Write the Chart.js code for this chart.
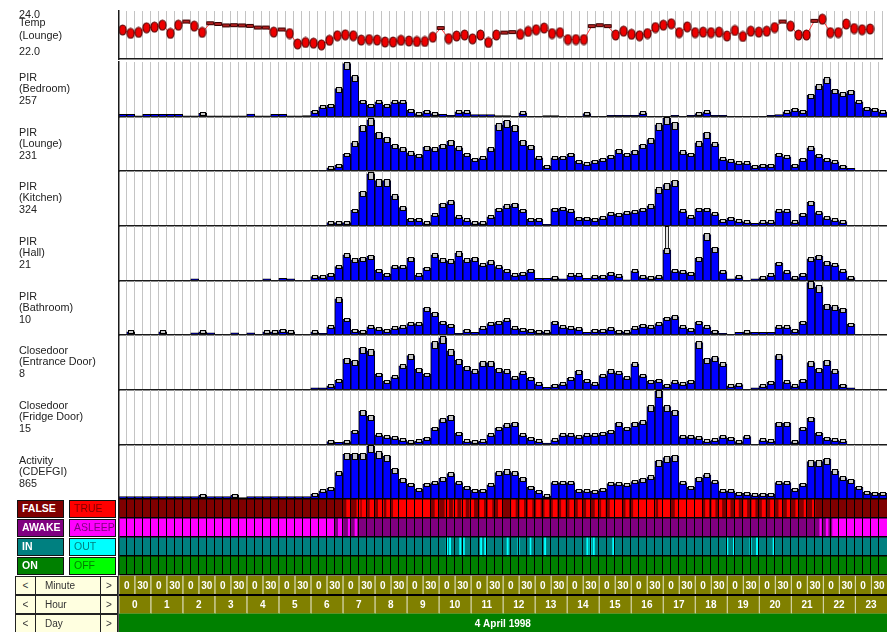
<!DOCTYPE html>
<html>
<head>
<meta charset="utf-8">
<script src="https://cdn.jsdelivr.net/npm/chart.js@4.4.1/dist/chart.umd.min.js"></script>
<style>
  html, body { margin: 0; padding: 0; background: #fff; }
  #wrap { position: relative; width: 887px; height: 632px; overflow: hidden;
          font-family: "Liberation Sans", Arial, sans-serif; }
  #wrap canvas { position: absolute; left: 0; }
  .lab { position: absolute; left: 19px; font-size: 10.8px; line-height: 11.5px; color: #222; white-space: nowrap; }
  .tl { position: absolute; left: 19px; font-size: 10.8px; line-height: 11px; color: #222; white-space: nowrap; }
  .sbox { position: absolute; height: 18px; box-sizing: border-box; border: 1.5px solid #111;
          font-weight: bold; font-size: 10.5px; line-height: 15px; padding-left: 4px; white-space: nowrap; }
  .nav { position: absolute; box-sizing: border-box; background: #ffffe0; border: 1px solid #222;
         font-size: 10px; line-height: 17px; color: #333; white-space: nowrap; }
</style>
</head>
<body>
<div id="wrap"></div>
<script>
// ---------- time axis ----------
const hourLabels = ['0','1','2','3','4','5','6','7','8','9','10','11','12','13','14','15','16','17','18','19','20','21','22','23'];
const minuteLabels = ['0', '30'];
const quarterLabels = ['00', '15', '30', '45'];
const dayLabel = '4 April 1998';

// ---------- lounge temperature (deg C), one reading per quarter hour ----------
const tempLounge = [
  23.21,23.07,23.11,23.30,23.33,23.41,23.07,23.41,23.56,23.37,23.11,23.49,
  23.46,23.40,23.41,23.40,23.38,23.31,23.31,23.12,23.23,23.06,22.63,22.69,
  22.66,22.59,22.78,22.97,23.01,22.97,22.79,22.81,22.79,22.71,22.71,22.78,
  22.75,22.73,22.73,22.91,23.29,22.85,22.96,23.00,22.84,23.00,22.69,23.00,
  23.10,23.12,23.03,23.15,23.22,23.29,23.06,23.10,22.81,22.81,22.81,23.37,
  23.41,23.37,23.00,23.16,23.03,22.97,23.06,23.31,23.41,23.47,23.10,23.34,
  23.10,23.12,23.10,23.12,22.96,23.19,22.94,23.16,23.12,23.16,23.31,23.56,
  23.37,23.00,23.00,23.59,23.66,23.10,23.10,23.46,23.27,23.22,23.25,null
];
// quarters in which the temperature did not move
const tempSteady = [8,11,12,13,14,15,16,17,18,20,40,48,49,59,60,61,83,87];
const tempRange = [22.0, 24.0];

// ---------- sensor counts per quarter hour ----------
const pirBedroom = [
  12,12,5,12,12,12,12,12,5,5,17,5,5,5,5,5,14,5,5,12,12,5,5,7,
  27,47,55,133,250,189,74,55,71,55,71,71,32,16,27,16,13,8,24,24,11,11,11,7,
  7,0,19,0,0,7,7,0,0,0,16,0,0,8,8,8,8,19,0,0,0,8,0,8,
  16,24,8,8,0,0,0,0,0,8,11,24,36,27,102,146,178,126,110,121,71,42,36,24
];
const pirLounge = [
  0,0,0,0,0,0,0,0,0,0,0,0,0,0,0,0,0,0,0,0,0,0,0,0,
  0,0,14,25,71,120,191,219,162,141,110,96,78,68,102,96,110,127,99,71,50,56,96,198,
  212,191,127,106,56,21,56,59,71,42,31,42,50,64,88,71,85,110,134,198,226,205,82,71,
  120,162,116,52,45,35,35,21,25,25,71,61,25,50,99,68,50,39,21,11,0,0,0,0
];
const pirKitchen = [
  0,0,0,0,0,0,0,0,0,0,0,0,0,0,0,0,0,0,0,0,0,0,0,0,
  0,0,20,20,20,93,198,307,268,268,178,109,40,40,20,65,129,144,54,36,20,20,54,99,
  119,129,93,40,40,10,99,105,89,46,46,40,49,73,70,79,85,99,119,218,244,263,89,54,
  99,99,73,34,46,30,24,16,24,24,89,89,24,70,139,79,49,36,26,0,0,0,0,0
];
const pirHall = [
  0,0,0,0,0,0,0,0,0,0.8,0,0,0,0,0,0,0,0,0.8,0,1.0,0.8,0,0,
  1.7,1.7,2.6,5.5,10.0,8.1,8.7,9.4,4.2,2.6,5.5,5.5,8.7,2.3,4.9,10.0,8.1,7.7,10.7,8.1,8.7,6.2,7.4,5.5,
  4.2,2.3,3.0,4.2,1.0,1.0,1.3,0.8,2.3,2.3,1.0,1.7,1.9,3.0,2.0,0.4,3.9,1.7,1.3,1.7,11.9,4.0,3.6,3.0,
  8.7,17.7,12.6,3.6,0.8,1.7,0,0.8,1.3,2.3,6.8,3.6,1.3,2.6,8.5,9.4,7.2,6.2,3.9,1.3,0,0,0,0
];
// [quarter index, peak reading] where the hall sensor spiked
const pirHallPeak = [[68, 21]];
const pirBathroom = [
  0,0.6,0,0,0,0.6,0,0,0,0.4,0.6,0.4,0,0,0.4,0,0.4,0,0.6,0.6,0.9,0.6,0,0,
  0.6,0.3,1.5,6.7,2.9,0.9,0.7,1.5,1.2,0.9,1.3,1.5,2.1,2.1,5.0,4.0,2.4,1.8,0.3,0.9,0.5,1.3,2.1,2.4,
  2.8,1.3,1.1,0.9,0.7,0.6,2.4,1.5,1.3,1.2,0.5,0.9,0.9,1.2,0.7,0.6,1.3,1.8,1.5,2.1,3.1,3.4,1.5,1.1,
  2.4,1.5,0.7,0.3,0,0.5,0.6,0.5,0.5,0.5,1.5,1.5,0.9,2.4,9.7,8.9,5.5,5.2,4.8,2.0,0,0,0,0
];
const doorEntrance = [
  0,0,0,0,0,0,0,0,0,0,0,0,0,0,0,0,0,0,0,0,0,0,0,0,
  0.3,0.3,0.6,1.4,4.5,4.2,6.1,5.7,2.3,1.3,1.9,3.5,5.0,3.0,2.3,6.9,7.6,5.7,4.3,3.3,2.8,4.0,4.0,3.0,
  2.8,1.8,2.5,1.7,0.9,0.4,0.7,0.9,1.7,2.7,1.4,0.9,2.1,2.8,2.5,1.8,3.8,2.1,1.3,1.4,0.7,1.2,0.9,1.3,
  6.9,4.5,4.7,3.8,0.6,0.8,0,0.3,0.6,1.1,5.0,1.2,0.6,1.4,4.0,3.0,4.2,2.8,0.7,0.3,0,0,0,0
];
const doorFridge = [
  0,0,0,0,0,0,0,0,0,0,0,0,0,0,0,0,0,0,0,0,0,0,0,0,
  0,0,0.9,0.7,0.9,3.7,9.2,7.8,2.8,2.3,2.0,1.4,0.9,1.1,1.8,4.6,6.9,7.8,3.2,1.1,0.9,1.1,2.8,4.6,
  5.5,6.0,2.8,1.8,1.1,0.5,1.4,2.8,2.8,2.3,2.8,2.8,3.2,3.7,6.0,4.6,6.0,6.4,10.5,14.7,10.5,9.2,2.3,2.3,
  2.0,1.1,1.4,2.3,1.8,0.9,2.3,0,1.4,1.1,6.0,6.0,0.9,4.6,7.3,3.2,1.8,1.4,1.1,0,0,0,0,0
];
const activityCDEFGI = [
  40,40,40,40,40,40,40,40,40,40,64,40,40,40,64,24,40,40,40,40,40,40,40,40,
  79,132,175,424,714,714,714,846,741,687,476,317,238,159,238,265,333,408,265,186,143,143,227,424,
  449,424,333,186,122,52,265,265,265,143,132,122,159,249,249,227,281,317,354,608,662,687,265,186,
  333,386,281,132,132,90,90,68,79,79,265,265,159,238,598,598,635,449,344,302,186,106,90,90
];

const panelTitles = [
  ['PIR', '(Bedroom)'], ['PIR', '(Lounge)'], ['PIR', '(Kitchen)'], ['PIR', '(Hall)'],
  ['PIR', '(Bathroom)'], ['Closedoor', '(Entrance Door)'], ['Closedoor', '(Fridge Door)'],
  ['Activity', '(CDEFGI)']
];
const panelMax = [257, 231, 324, 21, 10, 8, 15, 865];
const panelSeries = [pirBedroom, pirLounge, pirKitchen, pirHall, pirBathroom, doorEntrance, doorFridge, activityCDEFGI];

// ---------- state bands (hours of the day) ----------
const stateRows = ['FALSE', 'AWAKE', 'IN', 'ON'];
const stateAltLabels = ['TRUE', 'ASLEEP', 'OUT', 'OFF'];
const trueIntervals = [
  [7.12,7.23],[7.44,7.54],[7.60,7.75],[7.85,8.00],[8.11,8.27],[8.37,8.48],[8.58,9.73],
  [9.88,10.0],[10.19,10.31],[10.45,10.57],[10.71,10.83],[10.97,11.09],[11.28,11.40],[11.54,11.66],
  [11.86,11.98],[12.27,12.39],[12.53,12.65],[12.79,12.91],[13.05,13.17],[13.31,13.43],[13.57,13.69],
  [13.83,13.95],[14.09,14.21],[14.35,14.47],[14.61,14.73],[14.88,15.0],[15.08,15.2],
  [15.35,15.72],[15.84,15.93],[16.08,16.76],[16.86,17.23],[17.38,18.22],
  [18.33,18.43],[18.53,18.63],[18.74,18.84],[19.0,19.1],[19.26,19.36],[19.52,19.62],[19.78,19.88],
  [20.1,20.2],[20.36,20.46],[20.62,20.72],[20.88,20.98],[21.15,21.23],[21.41,21.49],[21.67,21.75]
];
const asleepIntervals = [[0,6.73],[6.86,7.0],[7.17,7.23],[7.38,7.44],[21.9,21.95],[22.1,22.16],[22.3,24]];
const outIntervals = [
  [10.23,10.28],[10.33,10.37],[10.65,10.69],[10.77,10.8],[11.3,11.34],[11.43,11.47],[12.13,12.17],
  [12.47,12.51],[12.85,12.88],[13.3,13.34],[14.62,14.66],[14.72,14.76],[14.82,14.86],[15.43,15.47],
  [18.98,19.03],[19.2,19.24],[19.72,19.76],[19.92,19.96],[20.44,20.48]
];
const offIntervals = [];

// ---------- styling ----------
const stateDark = ['#800000', '#800080', '#008080', '#008000'];
const stateBright = ['#ff0000', '#ff00ff', '#00ffff', '#00ff00'];
const FONT = '"Liberation Sans", Arial, sans-serif';
const W = 887, LEFT = 118.7;
const panelEdges = [62, 117, 171, 226, 281, 335, 390, 445, 499];

Chart.defaults.animation = false;
Chart.defaults.font.family = FONT;
Chart.defaults.plugins.legend.display = false;
Chart.defaults.plugins.tooltip.enabled = false;

const wrap = document.getElementById('wrap');
const slotKeys = [];
hourLabels.forEach(h => quarterLabels.forEach(q => slotKeys.push(h + ':' + q)));

function addCanvas(top, height) {
  const c = document.createElement('canvas');
  c.width = W; c.height = height;
  c.style.width = W + 'px'; c.style.height = height + 'px';
  c.style.top = top + 'px';
  wrap.appendChild(c);
  return c;
}
function addDiv(cls, css, html) {
  const d = document.createElement('div');
  d.className = cls;
  Object.assign(d.style, css);
  d.innerHTML = html;
  wrap.appendChild(d);
  return d;
}
const baseOpts = () => ({
  responsive: false, devicePixelRatio: 1, events: [],
  layout: { padding: { left: LEFT, right: 0, top: 2, bottom: 2 } }
});
const slotAxis = () => ({
  type: 'category', labels: slotKeys, offset: true,
  grid: { offset: true, color: '#c4c4c4', lineWidth: 1, drawTicks: false },
  ticks: { display: false },
  border: { display: true, color: '#1a1a1a', width: 1.5, z: 2 }
});
const valueAxis = (min, max) => ({
  type: 'linear', min, max,
  grid: { display: false, drawTicks: false },
  ticks: { display: false },
  border: { display: true, color: '#1a1a1a', width: 1.5, z: 2 }
});

// temperature point markers
function makeMark(w, h, draw) {
  const c = document.createElement('canvas');
  c.width = w; c.height = h;
  draw(c.getContext('2d'), w, h);
  return c;
}
const ovalMark = makeMark(9, 12, (g, w, h) => {
  g.beginPath(); g.ellipse(w / 2, h / 2, 3.5, 5, 0, 0, Math.PI * 2);
  g.fillStyle = '#ee0000'; g.fill();
  g.lineWidth = 1.2; g.strokeStyle = '#5a0000'; g.stroke();
});
const flatMark = makeMark(10, 6, (g, w, h) => {
  g.beginPath(); g.rect(1.5, 1.5, 7, 3);
  g.fillStyle = '#b02020'; g.fill();
  g.lineWidth = 1; g.strokeStyle = '#3a0000'; g.stroke();
});

// ---------- temperature panel ----------
addCanvas(panelEdges[0] - 56, 58);
new Chart(wrap.lastChild, {
  type: 'line',
  data: { labels: slotKeys, datasets: [{
    data: tempLounge,
    borderColor: '#ff3b3b', borderWidth: 1, tension: 0,
    pointStyle: (ctx) => tempSteady.includes(ctx.dataIndex) ? flatMark : ovalMark
  }] },
  options: Object.assign(baseOpts(), {
    scales: { x: slotAxis(), y: valueAxis(tempRange[0], tempRange[1]) }
  })
});
addDiv('tl', { top: '8.5px' }, tempRange[1].toFixed(1));
addDiv('tl', { top: '16.5px' }, 'Temp');
addDiv('tl', { top: '29.5px' }, '(Lounge)');
addDiv('tl', { top: '45.5px' }, tempRange[0].toFixed(1));

// grey cap on top of every count bar that is tall enough to carry one
const capPlugin = {
  id: 'caps',
  afterDatasetsDraw(chart) {
    const meta = chart.getDatasetMeta(0);
    const vals = chart.data.datasets[0].data;
    const ctx = chart.ctx;
    ctx.save();
    ctx.lineWidth = 1;
    ctx.strokeStyle = '#000';
    ctx.fillStyle = '#c8c8c8';
    meta.data.forEach((bar, i) => {
      if (!vals[i]) return;
      const h = bar.base - bar.y;
      if (h < 3) return;
      const capH = Math.max(2.5, Math.min(7, 1.5 + h * 0.11));
      const w = 5;
      const x0 = Math.round(bar.x - w / 2) + 0.5;
      const y0 = Math.round(bar.y - 1.5) + 0.5;
      ctx.fillRect(x0, y0, w, Math.round(capH));
      ctx.strokeRect(x0, y0, w, Math.round(capH));
    });
    ctx.restore();
  }
};

// ---------- sensor panels ----------
panelSeries.forEach((series, p) => {
  const top = panelEdges[p], bottom = panelEdges[p + 1];
  addCanvas(top - 2, bottom - top + 4);
  const datasets = [{
    data: series, backgroundColor: '#0000ff', borderColor: '#000', borderWidth: 1,
    barPercentage: 1, categoryPercentage: 1, grouped: false, order: 1
  }];
  if (series === pirHall) {
    datasets.push({
      data: pirHallPeak.map(([i, peak]) => ({ x: slotKeys[i], y: [series[i], peak] })),
      backgroundColor: '#e4e4e4', borderColor: '#000', borderWidth: 1, borderSkipped: false,
      barPercentage: 0.5, categoryPercentage: 1, grouped: false, order: 0
    });
  }
  new Chart(wrap.lastChild, {
    type: 'bar',
    data: { labels: slotKeys, datasets },
    options: Object.assign(baseOpts(), {
      scales: { x: slotAxis(), y: valueAxis(0, panelMax[p]) }
    }),
    plugins: [capPlugin]
  });
  const t = panelTitles[p];
  addDiv('lab', { top: (top + 9.5) + 'px' }, t[0] + '<br>' + t[1] + '<br>' + panelMax[p]);
});

// ---------- state bands ----------
const stateTop = 499, stateBottom = 575;
addCanvas(stateTop - 2, stateBottom - stateTop + 4);
const quarterEdges = [];
for (let i = 0; i <= hourLabels.length * 4; i++) quarterEdges.push(i / 4);
const altSets = [trueIntervals, asleepIntervals, outIntervals, offIntervals];
new Chart(wrap.lastChild, {
  type: 'bar',
  data: {
    labels: stateRows,
    // the resting state fills each band; the alternate state is laid over it
    datasets: altSets.map((set, k) => ({
      data: set.map(iv => ({ x: iv, y: stateRows[k] })), backgroundColor: stateBright[k], order: 0
    })).concat([
      { data: stateRows.map(r => ({ x: [0, 24], y: r })), backgroundColor: stateDark, order: 1 }
    ])
  },
  options: Object.assign(baseOpts(), {
    indexAxis: 'y',
    datasets: { bar: { grouped: false, barPercentage: 1, categoryPercentage: 1, borderWidth: 0, borderSkipped: false } },
    scales: {
      x: { type: 'linear', min: 0, max: 24,
           afterBuildTicks: (s) => { s.ticks = quarterEdges.map(v => ({ value: v })); },
           grid: { color: '#000', lineWidth: 1, z: 1, drawTicks: false },
           ticks: { display: false }, border: { display: false } },
      y: { type: 'category', offset: true,
           grid: { offset: true, color: '#000', lineWidth: 1.5, z: 1, drawTicks: false },
           ticks: { display: false },
           border: { display: true, color: '#1a1a1a', width: 1.5, z: 2 } }
    }
  })
});
stateRows.forEach((r, k) => {
  const y = stateTop + k * 19 + 0.5;
  addDiv('sbox', { left: '17px', top: y + 'px', width: '47px', background: stateDark[k], color: '#fff' }, r);
  addDiv('sbox', { left: '69px', top: y + 'px', width: '47px', background: stateBright[k], color: stateDark[k], fontWeight: 'normal' }, stateAltLabels[k]);
});

// ---------- time scale rows ----------
const navRows = ['Minute', 'Hour', 'Day'];
const minuteCells = [], hourCells = [];
hourLabels.forEach((h, i) => {
  minuteLabels.forEach((m, j) => minuteCells.push({ x: [i + j * 0.5, i + (j + 1) * 0.5], y: 'Minute', text: m }));
  hourCells.push({ x: [i, i + 1], y: 'Hour', text: h });
});
const dayCells = [{ x: [0, 24], y: 'Day', text: dayLabel }];

const cellText = {
  id: 'cellText',
  afterDatasetsDraw(chart) {
    const ctx = chart.ctx;
    ctx.save();
    ctx.font = 'bold 10px ' + FONT;
    ctx.fillStyle = '#fff';
    ctx.textAlign = 'center';
    ctx.textBaseline = 'middle';
    chart.data.datasets.forEach((ds, d) => {
      chart.getDatasetMeta(d).data.forEach((bar, i) => {
        const c = bar.getCenterPoint();
        ctx.fillText(ds.data[i].text, c.x, c.y + 1);
      });
    });
    ctx.restore();
  }
};
const axisTop = 575.5;
addCanvas(axisTop - 1.5, 60);
new Chart(wrap.lastChild, {
  type: 'bar',
  data: {
    labels: navRows,
    datasets: [
      { data: minuteCells, backgroundColor: '#808000', borderColor: 'rgba(255,255,255,0.85)', borderWidth: { left: 1, right: 0, top: 0, bottom: 0 } },
      { data: hourCells, backgroundColor: '#808000', borderColor: 'rgba(255,255,255,0.85)', borderWidth: { left: 1, right: 0, top: 0, bottom: 0 } },
      { data: dayCells, backgroundColor: '#008000', borderWidth: 0 }
    ]
  },
  options: Object.assign(baseOpts(), {
    layout: { padding: { left: LEFT, right: 0, top: 1.5, bottom: 1.5 } },
    indexAxis: 'y',
    datasets: { bar: { grouped: false, barPercentage: 1, categoryPercentage: 1, borderSkipped: false } },
    scales: {
      x: { type: 'linear', min: 0, max: 24, display: false },
      y: { type: 'category', offset: true,
           grid: { offset: true, z: 1, drawTicks: false, lineWidth: 2,
                   color: (c) => c.index === 1 ? '#000' : 'rgba(0,0,0,0)' },
           ticks: { display: false },
           border: { display: true, color: '#555', width: 1, z: 2 } }
    }
  }),
  plugins: [cellText]
});
navRows.forEach((r, k) => {
  const y = 576 + k * 19;
  addDiv('nav', { left: '15px', top: y + 'px', width: '21px', height: '19px', textAlign: 'center' }, '&lt;');
  addDiv('nav', { left: '35px', top: y + 'px', width: '66px', height: '19px', paddingLeft: '9px' }, r);
  addDiv('nav', { left: '100px', top: y + 'px', width: '18px', height: '19px', textAlign: 'center' }, '&gt;');
});
</script>
</body>
</html>
